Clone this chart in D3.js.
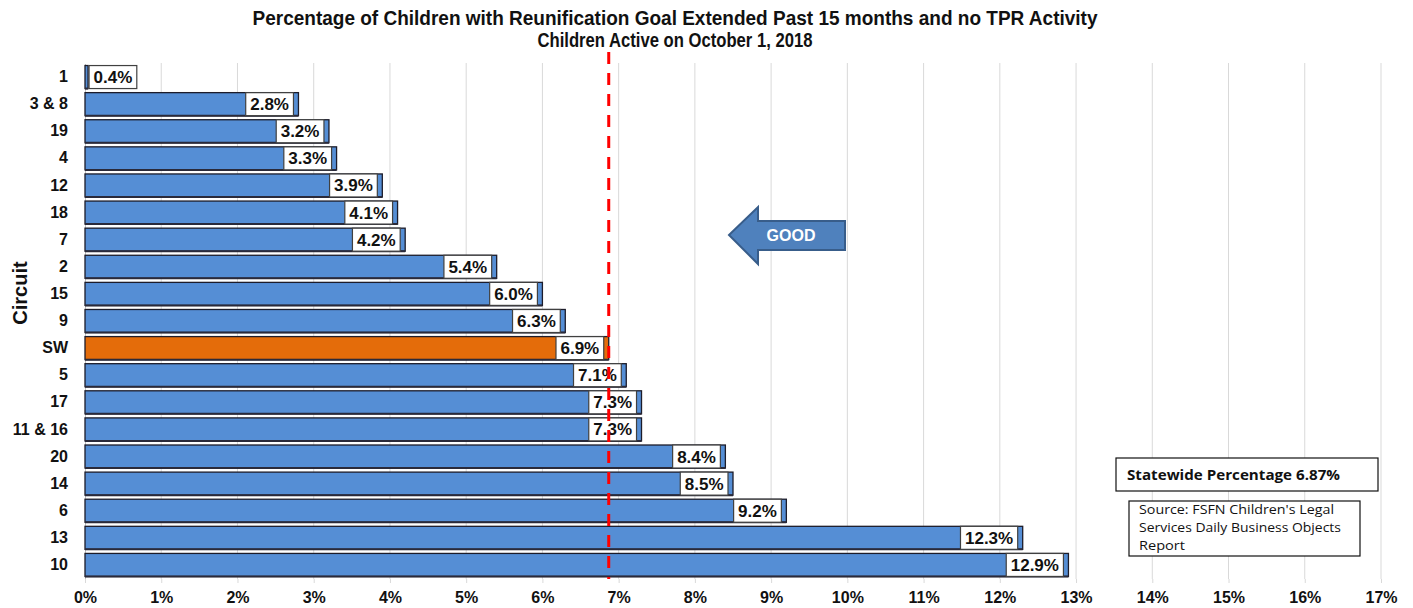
<!DOCTYPE html>
<html><head><meta charset="utf-8">
<script src="https://cdn.jsdelivr.net/npm/d3@7"></script>
<style>body{margin:0;background:#fff;} svg{display:block;}</style>
</head><body>
<svg id="c" width="1413" height="608"></svg>
<script>
const categories = ["1","3 & 8","19","4","12","18","7","2","15","9","SW","5","17","11 & 16","20","14","6","13","10"];
const values = [0.04,2.8,3.2,3.3,3.9,4.1,4.2,5.4,6.0,6.3,6.87,7.1,7.3,7.3,8.4,8.5,9.2,12.3,12.9];
const valueLabels = ["0.4%","2.8%","3.2%","3.3%","3.9%","4.1%","4.2%","5.4%","6.0%","6.3%","6.9%","7.1%","7.3%","7.3%","8.4%","8.5%","9.2%","12.3%","12.9%"];
const xTicks = [0,1,2,3,4,5,6,7,8,9,10,11,12,13,14,15,16,17];
const statewide = 6.87;
const titleLines = ["Percentage of Children with Reunification Goal Extended Past 15 months and no TPR Activity","Children Active on October 1, 2018"];
const sourceLines = ["Source: FSFN Children's Legal","Services Daily Business Objects","Report"];

const svg = d3.select("#c");
const x = d3.scaleLinear().domain([0,17]).range([85,1381]);
const y = d3.scaleBand().domain(categories).range([63.5,578.5]).paddingInner(0.15).paddingOuter(0.075);

// title
svg.append("text").attr("x",675).attr("y",25).attr("text-anchor","middle")
  .attr("font-family","'Liberation Sans Narrow', Arial, sans-serif").attr("font-weight","bold").attr("font-size",20)
  .attr("textLength",845).attr("lengthAdjust","spacingAndGlyphs").attr("fill","#111").text(titleLines[0]);
svg.append("text").attr("x",675).attr("y",47).attr("text-anchor","middle")
  .attr("font-family","'Liberation Sans Narrow', Arial, sans-serif").attr("font-weight","bold").attr("font-size",20)
  .attr("textLength",275).attr("lengthAdjust","spacingAndGlyphs").attr("fill","#111").text(titleLines[1]);

// gridlines
svg.append("g").selectAll("line").data(xTicks.slice(1)).join("line")
  .attr("x1",d=>x(d)).attr("x2",d=>x(d)).attr("y1",63).attr("y2",579)
  .attr("stroke","#d9d9d9").attr("stroke-width",1);

// x axis
const xa = svg.append("g").attr("transform","translate(0,579)")
  .call(d3.axisBottom(x).tickValues(xTicks).tickFormat(d=>d+"%").tickSize(4).tickSizeOuter(0));
xa.select(".domain").remove();
xa.selectAll("line").attr("stroke","#d9d9d9");
xa.selectAll("text").attr("font-family","Arial, 'Liberation Sans', sans-serif").attr("font-weight","bold")
  .attr("font-size",16).attr("fill","#111").attr("dy","1.05em");

// y axis
const ya = svg.append("g").attr("transform","translate(85,0)")
  .call(d3.axisLeft(y).tickSize(0).tickPadding(17));
ya.select(".domain").attr("stroke","#bfbfbf");
ya.selectAll("text").attr("font-family","Arial, 'Liberation Sans', sans-serif").attr("font-weight","bold")
  .attr("font-size",16).attr("fill","#111");

svg.append("text").attr("transform","translate(27,293) rotate(-90)").attr("text-anchor","middle")
  .attr("font-family","Arial, 'Liberation Sans', sans-serif").attr("font-weight","bold").attr("font-size",20)
  .attr("fill","#111").text("Circuit");

// bars
const data = categories.map((c,i)=>({c, v:values[i], l:valueLabels[i]}));
const bars = svg.append("g");
bars.selectAll("rect.bar").data(data).join("rect").attr("class","bar")
  .attr("x",x(0)).attr("y",d=>y(d.c)).attr("width",d=>x(d.v)-x(0)).attr("height",y.bandwidth())
  .attr("fill",d=>d.c==="SW"?"#E46C0A":"#558ED5").attr("stroke","#1c1c2a").attr("stroke-width",1.3);
bars.selectAll("line.edge").data(data).join("line").attr("class","edge")
  .attr("x1",x(0)).attr("x2",d=>x(d.v)).attr("y1",d=>y(d.c)+y.bandwidth()).attr("y2",d=>y(d.c)+y.bandwidth())
  .attr("stroke","#2a2a3a").attr("stroke-width",2);

// label boxes
const lab = svg.append("g");
data.forEach(d=>{
  const g = lab.append("g");
  const t = g.append("text").attr("font-family","Arial, 'Liberation Sans', sans-serif").attr("font-weight","bold")
    .attr("font-size",17).attr("fill","#111").text(d.l);
  const w = t.node().getComputedTextLength()+9;
  const h = 23;
  const barW = x(d.v)-x(0);
  let bx = (w+6 > barW) ? x(d.v)+1 : x(d.v)-5-w;
  const by = y(d.c)+y.bandwidth()/2-h/2;
  g.insert("rect","text").attr("x",bx).attr("y",by).attr("width",w).attr("height",h)
    .attr("fill","#fff").attr("stroke","#404040").attr("stroke-width",1.2);
  t.attr("x",bx+w/2).attr("y",by+h/2+6).attr("text-anchor","middle");
});

// statewide line
svg.append("line").attr("x1",x(statewide)).attr("x2",x(statewide)).attr("y1",52).attr("y2",579)
  .attr("stroke","#ff0000").attr("stroke-width",3).attr("stroke-dasharray","12,9");

// GOOD arrow
const ax = 729, ay = 235;
svg.append("path").attr("d",`M${ax},${ay} L${ax+29},${ay-28} L${ax+29},${ay-14} L${ax+116},${ay-14} L${ax+116},${ay+15} L${ax+29},${ay+15} L${ax+29},${ay+29} Z`)
  .attr("fill","#4F81BD").attr("stroke","#385D8A").attr("stroke-width",2);
svg.append("text").attr("x",791).attr("y",241).attr("text-anchor","middle")
  .attr("font-family","Arial, 'Liberation Sans', sans-serif").attr("font-weight","bold").attr("font-size",16)
  .attr("fill","#fff").text("GOOD");

// statewide box
svg.append("rect").attr("x",1116).attr("y",458).attr("width",262).attr("height",33)
  .attr("fill","#fff").attr("stroke","#111").attr("stroke-width",1.2);
svg.append("text").attr("x",1127).attr("y",480).attr("font-family","'Open Sans', Calibri, sans-serif")
  .attr("font-weight","bold").attr("font-size",14).attr("fill","#111").attr("textLength",213).attr("lengthAdjust","spacingAndGlyphs")
  .text("Statewide Percentage " + statewide.toFixed(2) + "%");

// source box
svg.append("rect").attr("x",1129).attr("y",501).attr("width",231).attr("height",55)
  .attr("fill","#fff").attr("stroke","#111").attr("stroke-width",1.2);
svg.append("g").selectAll("text").data(sourceLines).join("text")
  .attr("x",1139).attr("y",(d,i)=>514+i*18).attr("font-family","'Open Sans', Calibri, sans-serif")
  .attr("font-size",13).attr("fill","#111")
  .attr("textLength",(d,i)=>[195,202,46][i]).attr("lengthAdjust","spacingAndGlyphs").text(d=>d);
</script>
</body></html>
